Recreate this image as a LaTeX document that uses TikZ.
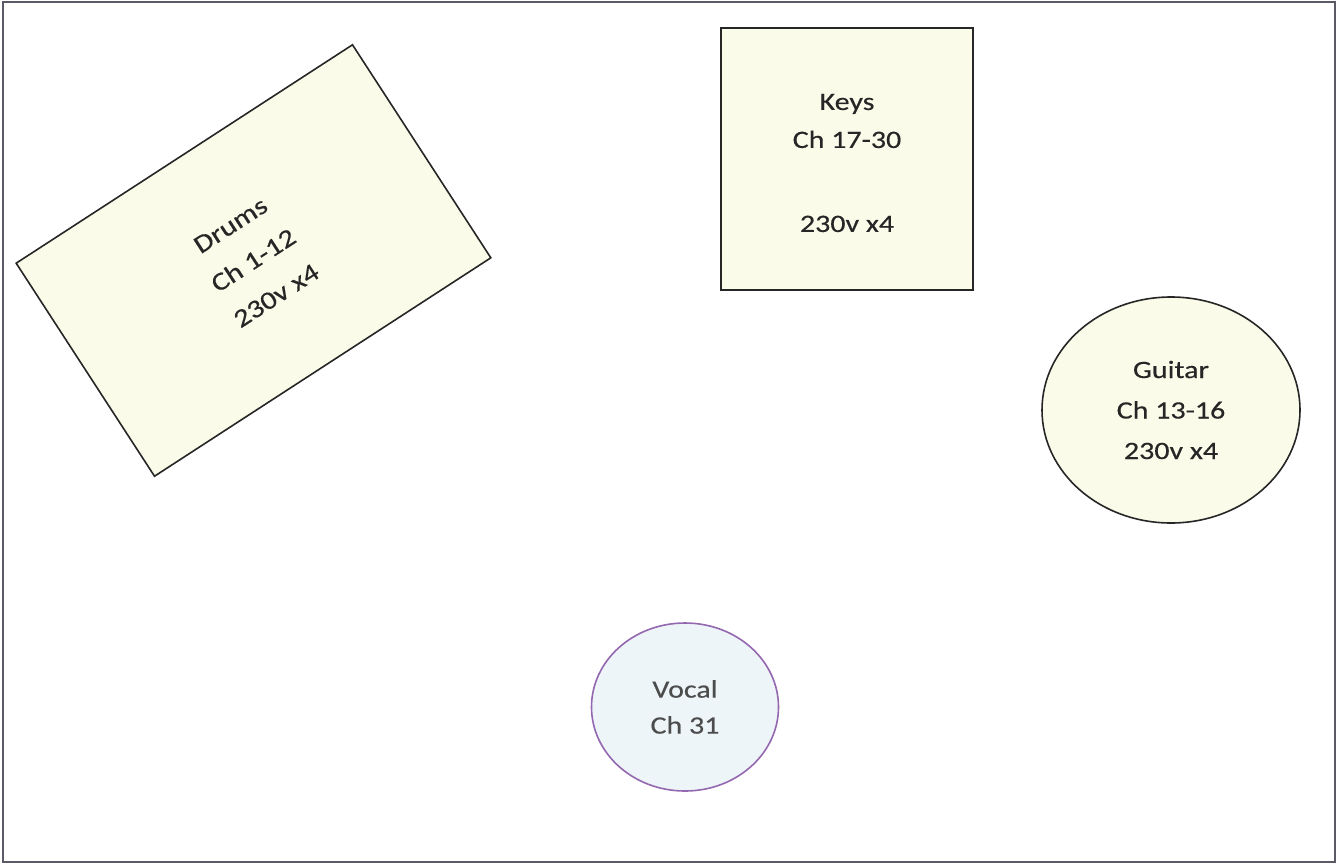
\documentclass[tikz,border=0pt]{standalone}
\usepackage{fontspec}
\setmainfont{Carlito}[FakeStretch=1.2,FakeBold=0.4]
\usetikzlibrary{shapes.geometric}
\definecolor{boxfill}{HTML}{FBFBE9}
\definecolor{vocfill}{HTML}{EEF5F8}
\definecolor{vocline}{HTML}{9468B0}
\definecolor{txt}{HTML}{262626}
\definecolor{frame}{HTML}{5A5A66}
\tikzset{
  lbl/.style={text=txt, align=center, font=\fontsize{25}{38}\selectfont},
  stagebox/.style={draw=black!85, line width=1.6pt, fill=boxfill, lbl},
}
\begin{document}
\begin{tikzpicture}[x=1pt,y=-1pt]
\useasboundingbox (0,0) rectangle (1338,865);
\draw[frame, line width=2pt] (3,2) rectangle (1335,862);
\node[stagebox, rectangle, rotate=33, minimum width=401pt, minimum height=254pt, inner sep=0pt,
  font=\fontsize{25.5}{42}\selectfont] (drums) at (253.5,260.5) {Drums\\Ch 1-12\\230v x4};
\node[stagebox, rectangle, minimum width=252pt, minimum height=262pt] (keysbox) at (847,159) {};
\node[lbl] (keys) at (847,163) {Keys\\Ch 17-30\\[46pt]230v x4};
\node[stagebox, ellipse, minimum width=258pt, minimum height=226pt, inner sep=0pt,
  font=\fontsize{25}{40.5}\selectfont] (guitar) at (1171,410) {Guitar\\Ch 13-16\\230v x4};
\node[lbl, draw=vocline, line width=1.6pt, fill=vocfill, ellipse, minimum width=187pt, minimum height=168pt, inner sep=0pt,
  text=black!70, font=\fontsize{25}{36}\selectfont] (vocal) at (685,707) {Vocal\\Ch 31};
\end{tikzpicture}
\end{document}
